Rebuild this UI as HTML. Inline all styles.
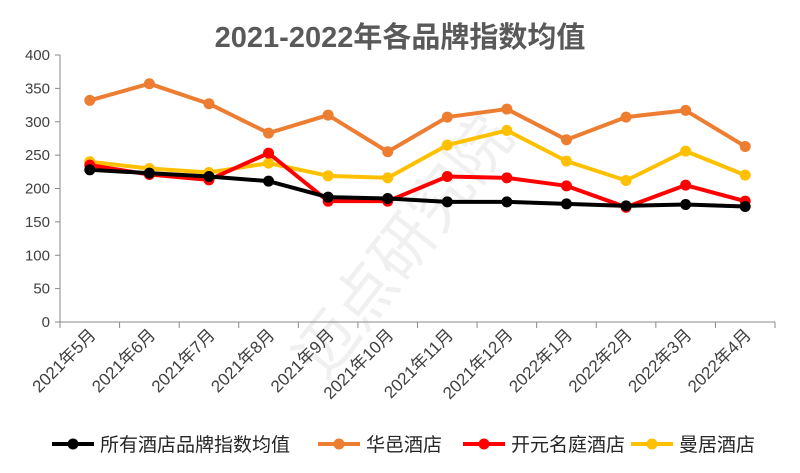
<!DOCTYPE html>
<html><head><meta charset="utf-8"><style>
body{margin:0;background:#fff;width:800px;height:468px;overflow:hidden}
svg text{font-family:"Liberation Sans","Noto Sans CJK SC",sans-serif}
</style></head><body>
<svg id="c" width="800" height="468" xmlns="http://www.w3.org/2000/svg"></svg>
<script>
const s=document.getElementById('c');
let h='';
h+='<text x="400" y="47" text-anchor="middle" font-size="29" font-weight="bold" fill="#595959">2021-2022年各品牌指数均值</text>';
h+='<text x="420" y="260" text-anchor="middle" font-size="62" fill="#f0f0f0" transform="rotate(-52 420 260)">迈点研究院</text>';
const x0=60,x1=775,yb=322,sc=267/400,cw=(x1-x0)/12;
for(let v=0;v<=400;v+=50){const y=yb-v*sc;h+=`<text x="50" y="${y+5}" text-anchor="end" font-size="15" fill="#404040">${v}</text>`;h+=`<line x1="55" x2="60" y1="${y}" y2="${y}" stroke="#888"/>`;}
h+=`<line x1="60" x2="60" y1="55" y2="322" stroke="#888"/><line x1="60" x2="775" y1="322" y2="322" stroke="#888"/>`;
for(let i=0;i<=12;i++){const x=x0+i*cw;h+=`<line x1="${x}" x2="${x}" y1="322" y2="328" stroke="#888"/>`;}
const labs=['2021年5月','2021年6月','2021年7月','2021年8月','2021年9月','2021年10月','2021年11月','2021年12月','2022年1月','2022年2月','2022年3月','2022年4月'];
labs.forEach((l,i)=>{const x=x0+(i+0.5)*cw+7,y=336;h+=`<text x="${x}" y="${y}" text-anchor="end" font-size="17" fill="#404040" transform="rotate(-45 ${x} ${y})">${l}</text>`;});
const ser=[
['#ed7d31',[332,357,327,283,310,255,307,319,273,307,317,263]],
['#ffc000',[240,230,224,238,219,216,265,287,241,212,256,220]],
['#ff0000',[235,221,213,253,181,181,218,216,204,172,205,181]],
['#000000',[228,223,218,211,187,185,180,180,177,174,176,173]]];
ser.forEach(([c,d])=>{const p=d.map((v,i)=>[x0+(i+0.5)*cw,yb-v*sc]);
h+=`<polyline points="${p.map(a=>a.join(',')).join(' ')}" fill="none" stroke="${c}" stroke-width="4" stroke-linejoin="round"/>`;
p.forEach(a=>h+=`<circle cx="${a[0]}" cy="${a[1]}" r="5.5" fill="${c}"/>`);});
const lg=[['#000000','所有酒店品牌指数均值',52],['#ed7d31','华邑酒店',318],['#ff0000','开元名庭酒店',463],['#ffc000','曼居酒店',631]];
lg.forEach(([c,t,x])=>{h+=`<line x1="${x}" x2="${x+42}" y1="444" y2="444" stroke="${c}" stroke-width="4"/><circle cx="${x+21}" cy="444" r="5.5" fill="${c}"/><text x="${x+48}" y="451" font-size="19" fill="#262626">${t}</text>`;});
s.innerHTML=h;
</script>
</body></html>
